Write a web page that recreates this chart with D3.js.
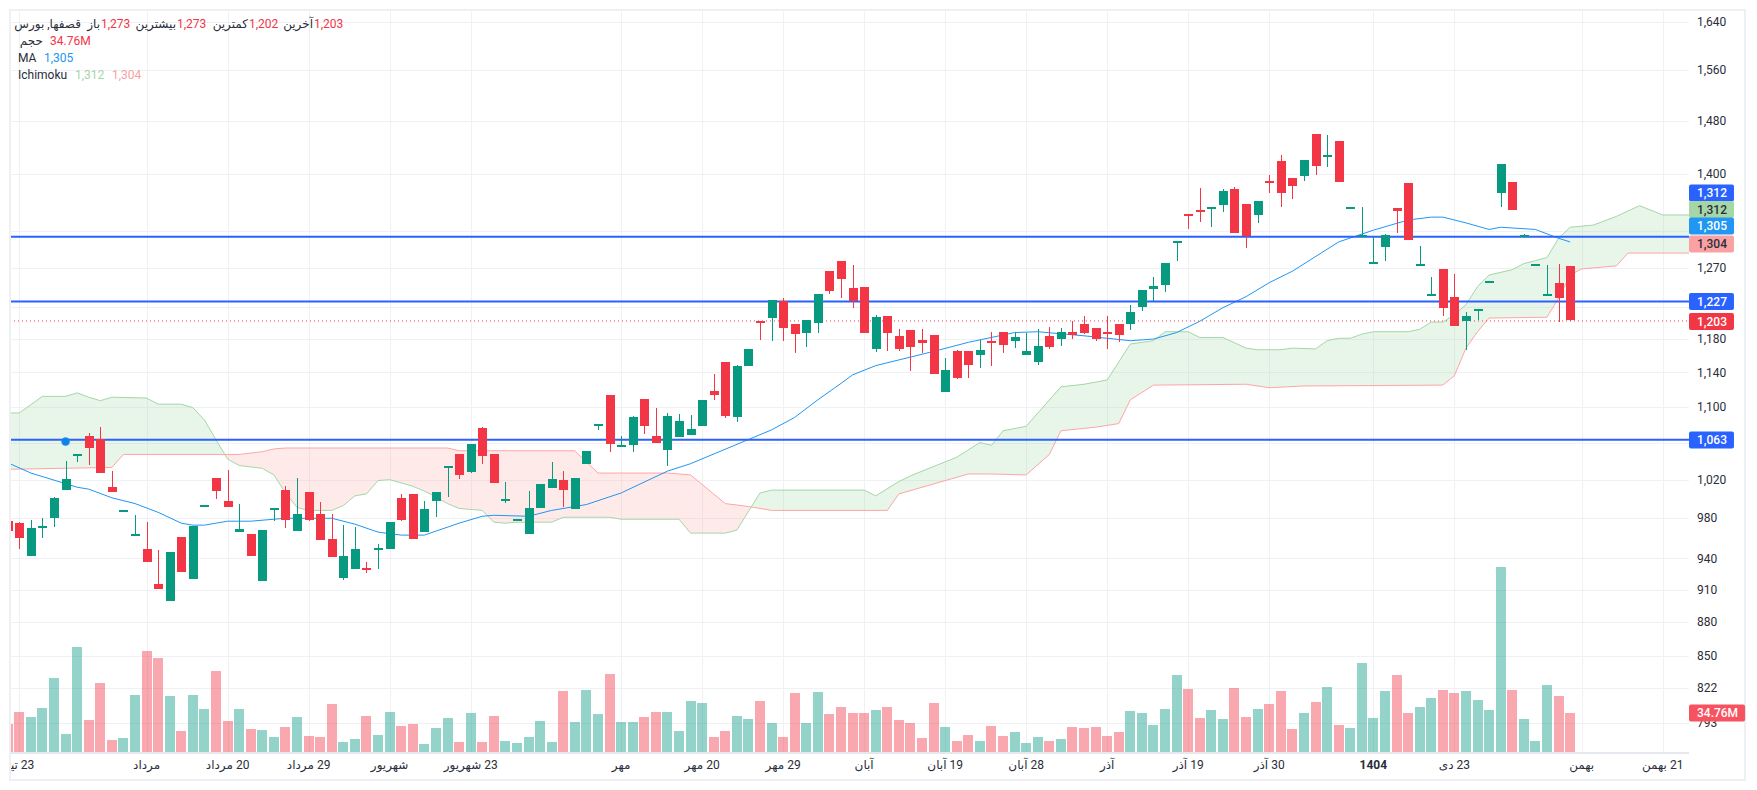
<!DOCTYPE html>
<html>
<head>
<meta charset="utf-8">
<script src="https://cdn.jsdelivr.net/npm/d3@7"></script>
<style>
  html, body { margin: 0; padding: 0; background: #fff; }
  svg { display: block; }
  text { font-family: Roboto, "DejaVu Sans", sans-serif; font-size: 12px; fill: #2a2e39; }
  .rtl { direction: rtl; }
</style>
</head>
<body>
<svg id="chart" width="1757" height="790"></svg>
<script>
// candles start one bar left of the first date line (index -1)
const firstIndex = -1;

const opens = [
  977,975,942,971,980,1009,1048,1067,1064,1012,
  988,964,949,915,899,961,920,992,1022,998,
  966,964,918,990,1009,967,1007,984,959,921,
  930,931,948,949,1001,1005,966,998,1034,1048,
  1028,1076,1047,1000,979,964,990,1011,1020,989,
  1037,1081,1113,1057,1057,1109,1067,1052,1066,1068,
  1078,1118,1152,1088,1147,1202,1206,1228,1199,1188,
  1200,1266,1280,1244,1246,1168,1209,1184,1191,1179,
  1185,1117,1165,1165,1161,1178,1189,1178,1161,1152,
  1184,1180,1189,1199,1194,1189,1198,1198,1220,1243,
  1248,1306,1343,1349,1353,1356,1379,1357,1342,1390,
  1419,1394,1397,1459,1428,1449,1353,1314,1278,1298,
  1352,1387,1275,1237,1269,1233,1202,1217,1253,1373,
  1389,1314,1275,1237,1250,1273
];
const closes = [
  967,960,970,972,1001,1021,1048,1054,1027,1007,
  988,964,937,911,946,927,972,994,1008,991,
  969,942,968,990,978,984,978,958,941,942,
  949,929,950,976,978,959,989,1007,1034,1025,
  1058,1045,1016,1000,979,990,1015,1021,1009,1022,
  1051,1081,1058,1057,1088,1078,1060,1089,1084,1075,
  1108,1114,1089,1147,1168,1200,1229,1194,1186,1204,
  1236,1240,1256,1228,1188,1207,1188,1168,1170,1175,
  1138,1143,1133,1149,1167,1175,1173,1183,1165,1172,
  1170,1189,1185,1188,1180,1187,1185,1213,1242,1247,
  1277,1306,1341,1346,1353,1376,1317,1313,1362,1387,
  1373,1383,1421,1412,1428,1389,1353,1315,1278,1315,
  1348,1308,1275,1237,1218,1196,1209,1217,1253,1415,
  1349,1315,1275,1237,1231,1203
];
const highs = [
  977,976,978,980,1002,1040,1048,1070,1077,1029,
  988,983,976,948,946,961,972,994,1022,1030,
  995,964,968,990,1013,1022,1007,997,984,973,
  971,937,954,976,1005,1005,998,1007,1034,1048,
  1058,1077,1047,1017,979,1008,1015,1039,1029,1022,
  1051,1081,1113,1067,1089,1109,1099,1093,1092,1091,
  1108,1138,1152,1149,1168,1202,1229,1231,1199,1204,
  1236,1266,1280,1274,1246,1210,1209,1192,1191,1192,
  1185,1157,1167,1165,1179,1189,1189,1189,1188,1192,
  1195,1194,1202,1209,1194,1209,1199,1223,1242,1259,
  1277,1306,1343,1380,1353,1379,1381,1357,1362,1399,
  1428,1394,1421,1459,1458,1449,1353,1353,1312,1316,
  1352,1387,1300,1259,1269,1262,1214,1217,1253,1415,
  1389,1316,1275,1274,1276,1273
];
const lows = [
  967,949,942,960,971,1009,1039,1036,1027,1007,
  988,964,937,911,899,927,920,992,1000,991,
  966,942,918,977,970,967,977,958,941,919,
  930,926,930,949,977,959,966,981,1002,1021,
  1027,1037,1016,996,979,964,990,1011,991,989,
  1037,1074,1050,1057,1050,1069,1060,1034,1066,1068,
  1078,1108,1087,1083,1147,1179,1178,1178,1163,1170,
  1188,1237,1231,1219,1188,1164,1165,1165,1141,1163,
  1138,1117,1132,1133,1145,1147,1163,1169,1161,1149,
  1168,1172,1180,1186,1178,1168,1177,1191,1215,1228,
  1239,1280,1322,1332,1325,1346,1317,1297,1331,1373,
  1353,1364,1390,1399,1410,1389,1353,1314,1278,1280,
  1317,1308,1275,1237,1209,1196,1167,1204,1253,1353,
  1349,1314,1275,1237,1201,1202
];
// volume in millions
const volumes = [
  25.0,35.7,31.2,39.2,66.0,16.0,93.6,28.5,61.5,10.7,
  12.5,50.8,90.0,83.8,49.9,18.7,50.8,38.3,72.2,27.6,
  38.3,20.5,19.6,13.4,22.3,31.2,14.3,13.4,42.8,8.9,
  11.6,32.1,15.2,35.7,23.2,25.0,7.1,21.4,30.3,8.9,
  34.8,8.9,32.1,9.8,8.0,13.4,27.6,8.9,54.4,26.7,
  55.3,33.9,69.5,26.7,26.7,31.2,35.7,35.7,18.7,45.5,
  43.7,13.4,18.7,32.1,29.4,45.5,25.8,13.4,52.6,25.8,
  53.5,33.9,40.1,34.8,34.8,37.4,40.1,28.5,25.8,12.5,
  43.7,22.3,9.8,15.2,9.8,23.2,14.3,17.8,8.0,13.4,
  9.8,11.6,22.3,21.4,22.3,14.3,17.8,36.5,34.8,24.1,
  38.3,68.6,56.2,30.3,37.4,29.4,57.0,31.2,38.3,42.8,
  54.4,20.5,34.8,44.6,57.9,24.1,21.4,79.3,30.3,54.4,
  68.6,34.8,40.1,48.1,55.3,52.6,54.4,46.3,37.4,164.9,
  55.3,29.4,9.8,59.7,49.9,34.76
];

// moving average, read at these bars
const maBars = [-1,1,5,6,8,10,12,14,15,16,18,20,23,27,29,31,33,35,36,38,40,41,44,46,49,52,56,58,65,67,69,71,72,74,79,82,86,88,92,94,96,98,100,102,104,106,108,110,114,117,120,122,123,125,127,128,131,133,134];
const maValues = [1038,1027,1012,1010,1001,995,986,975,973,973,977,977,980,980,974,966,963,963,967,975,982,983,982,988,994,1006,1029,1037,1074,1088,1108,1127,1137,1148,1165,1176,1188,1189,1184,1181,1178,1180,1188,1202,1219,1233,1251,1266,1305,1321,1335,1339,1339,1331,1322,1325,1322,1310,1305];

// ichimoku leading spans, they run past the last candle
const leadABars = [-1,0,2,4,5,6,7,8,11,12,14,15,16,17,18,19,21,22,23,24,25,27,28,29,30,31,32,34,35,36,37,38,40,41,42,43,46,47,51,52,57,58,61,62,64,65,73,74,76,77,81,83,84,85,87,90,92,94,96,98,99,101,102,104,106,107,109,110,112,113,114,115,116,117,120,121,122,123,124,125,126,127,129,130,131,132,133,134,136,138,140,142,145];
const leadAValues = [1093,1093,1112,1112,1116,1111,1107,1111,1110,1103,1103,1099,1085,1063,1042,1035,1032,1025,1006,991,988,988,993,1003,1005,1019,1020,1013,1008,1002,995,990,988,976,975,976,976,981,981,979,979,965,965,968,1006,1009,1009,1003,1018,1024,1044,1060,1057,1073,1078,1123,1126,1131,1174,1178,1189,1189,1182,1182,1169,1167,1167,1169,1168,1178,1181,1181,1186,1189,1189,1192,1201,1201,1210,1223,1246,1261,1268,1276,1280,1284,1310,1325,1328,1340,1355,1342,1342];
const leadBBars = [-1,8,9,19,21,22,23,37,38,48,50,56,58,61,63,65,75,76,82,84,87,89,90,93,95,96,98,106,108,111,123,124,125,126,127,132,133,134,135,138,139,145];
const leadBValues = [1031,1033,1047,1047,1050,1053,1054,1054,1051,1051,1027,1027,1025,995,992,988,988,1005,1026,1026,1025,1047,1073,1077,1081,1108,1125,1126,1122,1124,1125,1136,1169,1189,1206,1207,1231,1261,1269,1273,1290,1290];

const priceTicks = [1640,1560,1480,1400,1320,1270,1220,1180,1140,1100,1060,1020,980,940,910,880,850,822,793];
const hiddenPriceLabels = [1320,1220,1060];
const lineLevels = [1312,1227,1063];
const lastClose = 1203;

const dateBars = [0,11,18,25,32,39,52,59,66,73,80,87,94,101,108,117,124,135,142];
const dateLabels = ["23 تیر","مرداد","20 مرداد","29 مرداد","شهریور","23 شهریور","مهر","20 مهر","29 مهر","آبان","19 آبان","28 آبان","آذر","19 آذر","30 آذر","1404","23 دی","بهمن","21 بهمن"];

const up = "#089981", down = "#f23645", lineBlue = "#2962ff", maBlue = "#2196f3";
const leadGreen = "#a5d6a7", leadRed = "#ffa5a5";

const frame = { left: 10, top: 10, right: 1745, bottom: 780 };
const plotRight = 1689, plotBottom = 752;

const x = d3.scaleLinear().domain([0, 142]).range([19.3, 1662.7]);
const y = d3.scaleLog().domain([1640, 793]).range([21.5, 722.5]);
const yVol = d3.scaleLinear().domain([0, 164.9]).range([plotBottom, 567]);

const svg = d3.select("#chart");
const defs = svg.append("defs");
defs.append("clipPath").attr("id", "plot").append("rect")
  .attr("x", frame.left + 1).attr("y", frame.top + 1)
  .attr("width", plotRight - frame.left - 1).attr("height", plotBottom - frame.top - 1);
defs.append("clipPath").attr("id", "frameClip").append("rect")
  .attr("x", frame.left + 1).attr("y", frame.top)
  .attr("width", frame.right - frame.left - 1).attr("height", frame.bottom - frame.top);

// grid
svg.append("g").selectAll("line").data(priceTicks).join("line")
  .attr("x1", frame.left).attr("x2", plotRight)
  .attr("y1", d => Math.round(y(d)) + 0.5).attr("y2", d => Math.round(y(d)) + 0.5)
  .attr("stroke", "#f0f1f4");
svg.append("g").selectAll("line").data(dateBars).join("line")
  .attr("x1", d => Math.round(x(d)) + 0.5).attr("x2", d => Math.round(x(d)) + 0.5)
  .attr("y1", frame.top).attr("y2", plotBottom)
  .attr("stroke", "#f0f1f4");

const plot = svg.append("g").attr("clip-path", "url(#plot)");

// volume
const candles = d3.range(opens.length);
plot.append("g").selectAll("rect").data(candles).join("rect")
  .attr("x", i => Math.round(x(i + firstIndex)) - 5)
  .attr("width", 10)
  .attr("y", i => yVol(volumes[i]))
  .attr("height", i => plotBottom - yVol(volumes[i]))
  .attr("fill", i => closes[i] >= opens[i] ? up : down)
  .attr("opacity", 0.43)
  .attr("shape-rendering", "crispEdges");

// cloud, one clip for each side of the green span
const pairsA = leadABars.map((b, i) => [b, leadAValues[i]]);
const pairsB = leadBBars.map((b, i) => [b, leadBValues[i]]);
const areaTo = (edge) => d3.area().x(d => x(d[0])).y0(edge).y1(d => y(d[1]));
defs.append("clipPath").attr("id", "aboveA").append("path").attr("d", areaTo(0)(pairsA));
defs.append("clipPath").attr("id", "aboveB").append("path").attr("d", areaTo(0)(pairsB));
plot.append("g").attr("clip-path", "url(#aboveB)").append("path")
  .attr("d", areaTo(plotBottom)(pairsA)).attr("fill", leadGreen).attr("fill-opacity", 0.25);
plot.append("g").attr("clip-path", "url(#aboveA)").append("path")
  .attr("d", areaTo(plotBottom)(pairsB)).attr("fill", "#ff9e9e").attr("fill-opacity", 0.22);

const spanLine = d3.line().x(d => x(d[0])).y(d => y(d[1]));
plot.append("path").attr("d", spanLine(pairsA)).attr("fill", "none").attr("stroke", leadGreen).attr("stroke-width", 1);
plot.append("path").attr("d", spanLine(pairsB)).attr("fill", "none").attr("stroke", leadRed).attr("stroke-width", 1);
plot.append("path").attr("d", spanLine(maBars.map((b, i) => [b, maValues[i]])))
  .attr("fill", "none").attr("stroke", maBlue).attr("stroke-width", 1);

// drawn levels
plot.append("g").selectAll("line").data(lineLevels).join("line")
  .attr("x1", frame.left).attr("x2", plotRight)
  .attr("y1", d => y(d)).attr("y2", d => y(d))
  .attr("stroke", lineBlue).attr("stroke-width", 2);
plot.append("line")
  .attr("x1", frame.left).attr("x2", plotRight)
  .attr("y1", y(lastClose) + 0.5).attr("y2", y(lastClose) + 0.5)
  .attr("stroke", down).attr("stroke-dasharray", "1 3");
plot.append("circle").attr("cx", x(4)).attr("cy", y(1061)).attr("r", 4)
  .attr("fill", "#0b84ee").attr("stroke", "#2c8fe0").attr("stroke-opacity", 0.5);

// candles
const candleColor = i => closes[i] >= opens[i] ? up : down;
const gCandles = plot.append("g").attr("shape-rendering", "crispEdges");
gCandles.selectAll("line").data(candles).join("line")
  .attr("x1", i => Math.round(x(i + firstIndex)) + 0.5)
  .attr("x2", i => Math.round(x(i + firstIndex)) + 0.5)
  .attr("y1", i => y(highs[i])).attr("y2", i => y(lows[i]))
  .attr("stroke", candleColor);
gCandles.selectAll("rect").data(candles).join("rect")
  .attr("x", i => Math.round(x(i + firstIndex)) - 4)
  .attr("width", 9)
  .attr("y", i => Math.round(y(Math.max(opens[i], closes[i]))))
  .attr("height", i => Math.max(2, Math.round(y(Math.min(opens[i], closes[i]))) - Math.round(y(Math.max(opens[i], closes[i])))))
  .attr("fill", candleColor);

// axis baseline and frame
svg.append("line").attr("x1", frame.left).attr("x2", plotRight)
  .attr("y1", plotBottom + 1).attr("y2", plotBottom + 1)
  .attr("stroke", "#e6e8ef").attr("stroke-width", 2);
svg.append("rect").attr("x", frame.left).attr("y", frame.top)
  .attr("width", frame.right - frame.left).attr("height", frame.bottom - frame.top)
  .attr("fill", "none").attr("stroke", "#eff0f5").attr("stroke-width", 2);

// price labels
svg.append("g").selectAll("text").data(priceTicks.filter(d => !hiddenPriceLabels.includes(d))).join("text")
  .attr("x", 1697).attr("y", d => y(d)).attr("dy", "0.35em")
  .text(d => d3.format(",")(d));

// date labels
svg.append("g").attr("clip-path", "url(#frameClip)").selectAll("text").data(dateBars).join("text")
  .attr("class", "rtl")
  .attr("x", d => x(d)).attr("y", 769)
  .attr("text-anchor", "middle")
  .style("font-weight", (d, i) => dateLabels[i] === "1404" ? 700 : null)
  .text((d, i) => dateLabels[i]);

// price tags on the axis
const tagLabels = ["1,312","1,312","1,305","1,304","1,227","1,203","1,063","34.76M"];
const tagCenters = [193,209.5,226,244,301.5,321.5,440,713];
const tagFills = [lineBlue,"#a5d6a7",maBlue,"#faa1a4",lineBlue,down,lineBlue,"#f7525f"];
const tagTexts = ["#fff","#2a2e39","#fff","#2a2e39","#fff","#fff","#fff","#fff"];
const gTags = svg.append("g");
tagLabels.forEach((label, i) => {
  const t = gTags.append("g");
  const r = t.append("rect").attr("x", 1689).attr("y", tagCenters[i] - 8.5)
    .attr("height", 17).attr("rx", 2).attr("fill", tagFills[i]);
  const txt = t.append("text").attr("x", 1697).attr("y", tagCenters[i]).attr("dy", "0.35em")
    .style("fill", tagTexts[i]).style("font-weight", 500).text(label);
  r.attr("width", txt.node().getComputedTextLength() + 15);
});

// legend, top left
const legendItems = [
  ["قصفها, بورس", 81, 24, "#2a2e39", true],
  ["باز", 100, 24, "#2a2e39", true],
  ["1,273", 101, 24, down, false],
  ["بیشترین", 176, 24, "#2a2e39", true],
  ["1,273", 177, 24, down, false],
  ["کمترین", 248, 24, "#2a2e39", true],
  ["1,202", 249, 24, down, false],
  ["آخرین", 313, 24, "#2a2e39", true],
  ["1,203", 314, 24, down, false],
  ["حجم", 43, 41, "#2a2e39", true],
  ["34.76M", 50, 41, down, false],
  ["MA", 18, 58, "#2a2e39", false],
  ["1,305", 44, 58, maBlue, false],
  ["Ichimoku", 18, 75, "#2a2e39", false],
  ["1,312", 75, 75, leadGreen, false],
  ["1,304", 112, 75, "#faa1a4", false]
];
svg.append("g").selectAll("text").data(legendItems).join("text")
  .attr("class", d => d[4] ? "rtl" : null)
  .attr("x", d => d[1]).attr("y", d => d[2]).attr("dy", "0.35em")
  .style("fill", d => d[3])
  .text(d => d[0]);
</script>
</body>
</html>
